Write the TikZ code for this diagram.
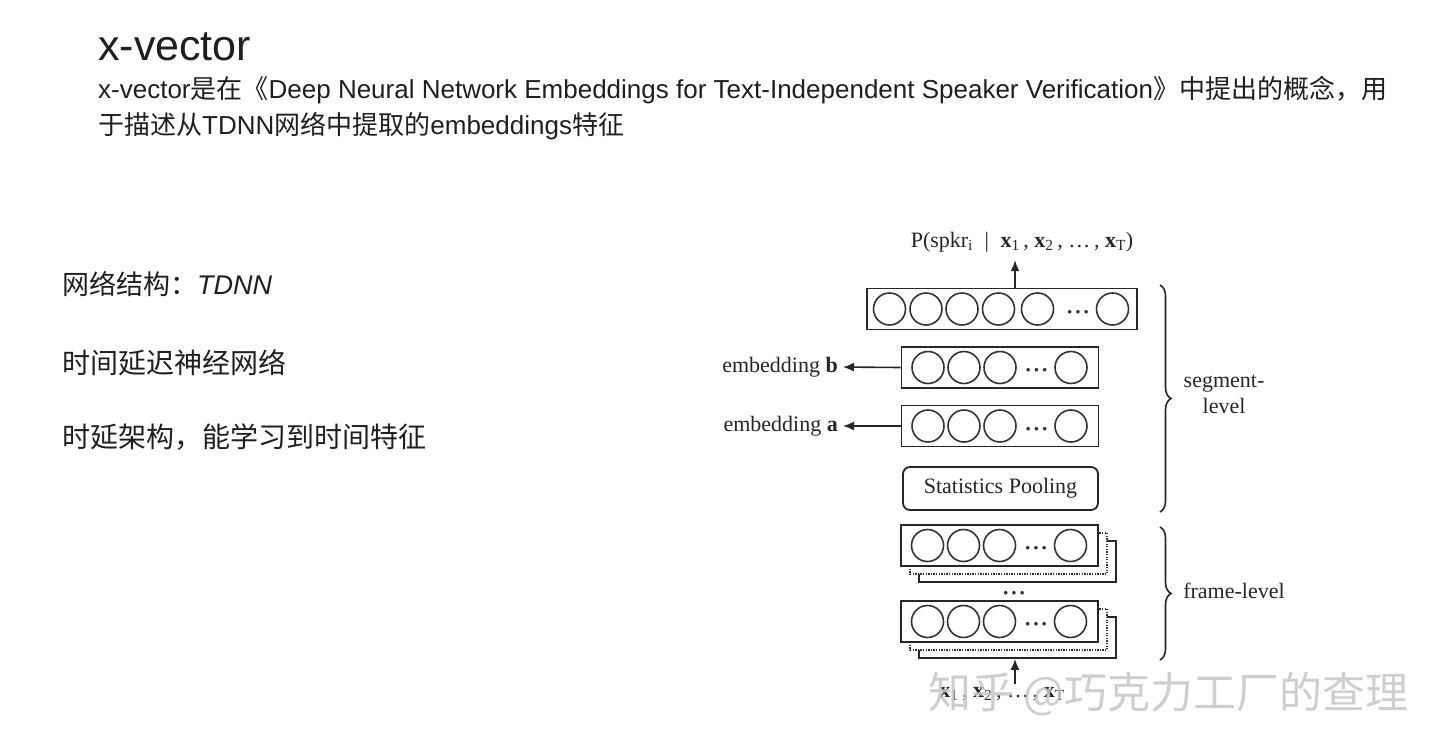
\documentclass[tikz,border=0pt]{standalone}
\usepackage{fontspec}
\setmainfont{Liberation Sans}
\newfontfamily\cjk{Noto Sans CJK SC}
\newfontfamily\tnr{Liberation Serif}
\usetikzlibrary{arrows.meta,decorations.pathreplacing}
\newcommand\mydots{\textbf{·\kern1pt·\kern1pt·}}
\begin{document}
\begin{tikzpicture}[x=1pt,y=-1pt,
  txt/.style={inner sep=0, anchor=base west, text=black!88},
  layerbox/.style={draw=black!85, line width=1.8pt, fill=white, minimum height=41pt, inner sep=0},
  backdot/.style={draw=black!80, line width=1.7pt, fill=white, dash pattern=on 1.3pt off 1.3pt, minimum height=41pt, minimum width=197pt, inner sep=0},
  backsolid/.style={draw=black!85, line width=1.7pt, fill=white, minimum height=41pt, minimum width=197pt, inner sep=0},
  neuron/.style={circle, draw=black!80, line width=1.6pt, minimum size=32pt, inner sep=0},
  dotsl/.style={inner sep=0, anchor=base, text=black!80, font=\tnr\fontsize{22}{22}\selectfont},
  dlabel/.style={inner sep=0, text=black!85, font=\tnr\fontsize{22}{26}\selectfont},
  arr/.style={-{Latex[length=11pt,width=9pt]}, line width=1.6pt, draw=black!85},
  bracedec/.style={decorate, decoration={brace, amplitude=11pt, aspect=0.5}, line width=1.6pt, draw=black!85},
]
\useasboundingbox[fill=white] (0,0) rectangle (1440,750);

% header
\node[txt, font=\fontsize{43}{46}\selectfont] (title) at (98,60) {x-vector};
\node[txt, font=\fontsize{26}{30}\selectfont] (l1) at (98,98) {x-vector{\cjk 是在《}Deep Neural Network Embeddings for Text-Independent Speaker Verification{\cjk 》中提出的概念，用}};
\node[txt, font=\fontsize{26}{30}\selectfont] (l2) at (98,134) {{\cjk 于描述从}TDNN{\cjk 网络中提取的}embeddings{\cjk 特征}};

% left notes
\node[txt, font=\fontsize{27}{30}\selectfont] (n1) at (62,294) {{\cjk 网络结构：}\textit{TDNN}};
\node[txt, font=\fontsize{28}{30}\selectfont] (n2) at (62,373) {{\cjk 时间延迟神经网络}};
\node[txt, font=\fontsize{28}{30}\selectfont] (n3) at (62,447) {{\cjk 时延架构，能学习到时间特征}};

% output
\node[dlabel] (pt) at (1022,242) {P(spkr\textsubscript{i} \;|\; \textbf{x}\textsubscript{1}\,, \textbf{x}\textsubscript{2}\,, \ldots\,, \textbf{x}\textsubscript{T})};

% top layer
\node[layerbox, minimum width=270pt] (top) at (1002,309) {};
\foreach \i/\dx in {1/22.5,2/59,3/95,4/131.5,5/170.5,6/245.5}
  \node[neuron] (top\i) at (867+\dx,309) {};
\node[dotsl] (topd) at (1078,319) {\mydots};
\coordinate (pa) at (1015,288);
\draw[arr, shorten >=8pt] (pa) -- (pa |- pt.south);

% embedding b
\node[layerbox, minimum width=197pt] (eb) at (1000,367.5) {};
\foreach \i/\dx in {1/26.5,2/62.5,3/98.5,4/169.5}
  \node[neuron] (eb\i) at (901.5+\dx,367.5) {};
\node[dotsl] (ebd) at (1036.5,377.5) {\mydots};
\node[dlabel, anchor=east] (lb) at (838,367) {embedding \textbf{b}};
\draw[arr, shorten >=5pt] (eb.west) -- (lb.east);

% embedding a
\node[layerbox, minimum width=197pt] (ea) at (1000,426) {};
\foreach \i/\dx in {1/26.5,2/62.5,3/98.5,4/169.5}
  \node[neuron] (ea\i) at (901.5+\dx,426) {};
\node[dotsl] (ead) at (1036.5,436) {\mydots};
\node[dlabel, anchor=east] (la) at (838,426) {embedding \textbf{a}};
\draw[arr, shorten >=5pt] (ea.west) -- (la.east);

% statistics pooling
\node[layerbox, rounded corners=7pt, minimum width=195pt, minimum height=43pt, font=\tnr\fontsize{22}{26}\selectfont, text=black!85] (sp) at (1000.5,488.5) {Statistics Pooling};

% frame-level group 1
\node[backsolid] (f1c) at (1017.5,561.5) {};
\node[backdot] (f1b) at (1008.5,553.5) {};
\node[layerbox, minimum width=197pt] (f1a) at (999.5,545.5) {};
\foreach \i/\dx in {1/26.5,2/62.5,3/98.5,4/169.5}
  \node[neuron] (f1n\i) at (901+\dx,545.5) {};
\node[dotsl] (f1d) at (1036,555.5) {\mydots};

\node[dotsl] (vd) at (1014,600) {\mydots};

% frame-level group 2
\node[backsolid] (f2c) at (1017.5,637.5) {};
\node[backdot] (f2b) at (1008.5,629.5) {};
\node[layerbox, minimum width=197pt] (f2a) at (999.5,621.5) {};
\foreach \i/\dx in {1/26.5,2/62.5,3/98.5,4/169.5}
  \node[neuron] (f2n\i) at (901+\dx,621.5) {};
\node[dotsl] (f2d) at (1036,631.5) {\mydots};

% input
\node[dlabel] (inp) at (1002,694) {\textbf{x}\textsubscript{1}\,, \textbf{x}\textsubscript{2}\,, \ldots\,, \textbf{x}\textsubscript{T}};
\coordinate (ina) at (1015,684);
\draw[arr] (ina) -- (ina |- f2c.south);

% braces
\coordinate (s1) at (1160,285);
\coordinate (s2) at (1160,512);
\draw[bracedec] (s1) -- (s2);
\node[dlabel, align=center] (seg) at (1224,394) {segment-\\level};
\coordinate (r1) at (1160,527);
\coordinate (r2) at (1160,660);
\draw[bracedec] (r1) -- (r2);
\node[dlabel] (frm) at (1234,591) {frame-level};

% watermark
\node[inner sep=0, anchor=base west, text=gray!45, opacity=0.85, font=\cjk\fontsize{43}{43}\selectfont] (wm) at (928,708) {知乎 @巧克力工厂的查理};
\end{tikzpicture}
\end{document}
